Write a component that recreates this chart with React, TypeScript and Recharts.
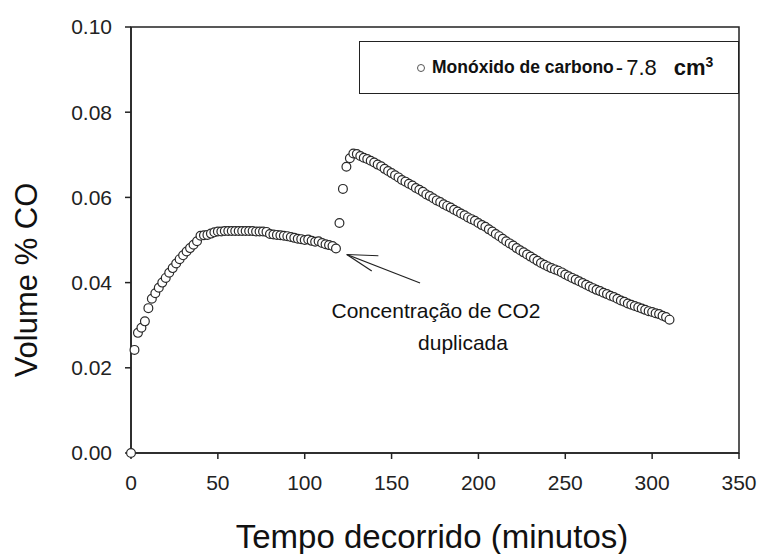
import { ScatterChart, Scatter, XAxis, YAxis, ReferenceArea, ReferenceLine, Legend } from "recharts";

// tempo decorrido (min) e volume % CO, antes e depois de duplicar o CO2
const tempoAntes = [
  0, 2, 4, 6, 8, 10, 12, 14, 16, 18,
  20, 22, 24, 26, 28, 30, 32, 34, 36, 38,
  40, 42, 44, 46, 48, 50, 52, 54, 56, 58,
  60, 62, 64, 66, 68, 70, 72, 74, 76, 78,
  80, 82, 84, 86, 88, 90, 92, 94, 96, 98,
  100, 102, 104, 106, 108, 110, 112, 114, 116, 118,
];
const coAntes = [
  0, 0.0242, 0.0282, 0.0294, 0.0309, 0.034, 0.0362, 0.0375, 0.0388, 0.04,
  0.0411, 0.0423, 0.0434, 0.0445, 0.0455, 0.0464, 0.0473, 0.0481, 0.0489, 0.0497,
  0.051, 0.0511, 0.0512, 0.0515, 0.0518, 0.052, 0.052, 0.0521, 0.0521, 0.0521,
  0.0521, 0.0521, 0.0521, 0.0521, 0.0521, 0.0521, 0.052, 0.052, 0.052, 0.0519,
  0.0514, 0.0513, 0.0512, 0.0511, 0.051, 0.0509, 0.0507, 0.0505, 0.0503, 0.0502,
  0.05, 0.0501, 0.0498, 0.0496, 0.0497, 0.0493, 0.049, 0.0488, 0.0486, 0.048,
];
const tempoDepois = [
  120, 122, 124, 126, 128, 130, 132, 134, 136, 138,
  140, 142, 144, 146, 148, 150, 152, 154, 156, 158,
  160, 162, 164, 166, 168, 170, 172, 174, 176, 178,
  180, 182, 184, 186, 188, 190, 192, 194, 196, 198,
  200, 202, 204, 206, 208, 210, 212, 214, 216, 218,
  220, 222, 224, 226, 228, 230, 232, 234, 236, 238,
  240, 242, 244, 246, 248, 250, 252, 254, 256, 258,
  260, 262, 264, 266, 268, 270, 272, 274, 276, 278,
  280, 282, 284, 286, 288, 290, 292, 294, 296, 298,
  300, 302, 304, 306, 308, 310,
];
const coDepois = [
  0.054, 0.062, 0.0672, 0.0692, 0.0703, 0.0702, 0.0697, 0.0693, 0.069, 0.0686,
  0.0682, 0.0677, 0.0673, 0.0667, 0.0662, 0.0657, 0.0652, 0.0647, 0.0641, 0.0637,
  0.0632, 0.0628, 0.0622, 0.0618, 0.0613, 0.0607, 0.0603, 0.0598, 0.0593, 0.0589,
  0.0584, 0.058, 0.0576, 0.0571, 0.0567, 0.0562, 0.0558, 0.0553, 0.0549, 0.0545,
  0.054, 0.0535, 0.0531, 0.0525, 0.052, 0.0514, 0.0509, 0.0503, 0.0497, 0.0492,
  0.0487, 0.0481, 0.0476, 0.0471, 0.0466, 0.0461, 0.0456, 0.0451, 0.0446, 0.0442,
  0.0438, 0.0434, 0.0431, 0.0428, 0.0424, 0.0419, 0.0415, 0.0411, 0.0407, 0.0403,
  0.0399, 0.0395, 0.0391, 0.0387, 0.0383, 0.038, 0.0376, 0.0373, 0.0369, 0.0366,
  0.0362, 0.0358, 0.0355, 0.0351, 0.0348, 0.0345, 0.0342, 0.0339, 0.0336, 0.0333,
  0.0331, 0.0328, 0.0326, 0.0322, 0.0319, 0.0313,
];

const xTicks = [0, 50, 100, 150, 200, 250, 300, 350];
const yTicks = [0, 0.02, 0.04, 0.06, 0.08, 0.1];

const data = [
  ...tempoAntes.map((t, i) => ({ tempo: t, co: coAntes[i] })),
  ...tempoDepois.map((t, i) => ({ tempo: t, co: coDepois[i] })),
];

const FONT = '"Liberation Sans", Arial, sans-serif';
const INK = "#222";

const OpenCircle = (props: any) => (
  <circle cx={props.cx} cy={props.cy} r={4.4} fill="#fff" stroke="#2a2a2a" strokeWidth={1.2} />
);

const LegendBox = (props: any) => {
  const name = props.payload?.[0]?.value ?? "Monóxido de carbono";
  return (
    <div
      style={{
        boxSizing: "border-box",
        width: 380,
        height: 53,
        border: `1.5px solid ${INK}`,
        background: "#fff",
        display: "flex",
        alignItems: "center",
        paddingLeft: 56,
        fontFamily: FONT,
        color: "#111",
        whiteSpace: "nowrap",
      }}
    >
      <svg width={10} height={10} style={{ marginRight: 6 }}>
        <circle cx={5} cy={5} r={3.5} fill="#fff" stroke="#555" strokeWidth={1} />
      </svg>
      <span style={{ fontWeight: "bold", fontSize: 17.5 }}>{name}</span>
      <span style={{ fontSize: 22, marginLeft: 2 }}>-</span>
      <span style={{ fontSize: 22, marginLeft: 3 }}>7.8</span>
      <span style={{ fontWeight: "bold", fontSize: 22, marginLeft: 17 }}>
        cm<sup style={{ fontSize: 14, fontWeight: "bold" }}>3</sup>
      </span>
    </div>
  );
};

export default function App() {
  return (
    <div style={{ position: "absolute", left: 0, top: 0, width: 758, height: 554, background: "#fff" }}>
      <ScatterChart width={758} height={554} margin={{ top: 27, right: 19, bottom: 41, left: 61 }}>
        <XAxis
          type="number"
          dataKey="tempo"
          domain={[0, 350]}
          ticks={xTicks}
          height={60}
          stroke={INK}
          strokeWidth={1.5}
          tickSize={6}
          tickMargin={16}
          tick={{ fill: INK, fontSize: 21, fontFamily: FONT }}
        />
        <YAxis
          type="number"
          dataKey="co"
          domain={[0, 0.1]}
          ticks={yTicks}
          width={70}
          stroke={INK}
          strokeWidth={1.5}
          tickSize={6}
          tickMargin={13}
          tick={{ fill: INK, fontSize: 21, fontFamily: FONT }}
          tickFormatter={(v: number) => v.toFixed(2)}
        />
        <ReferenceArea x1={0} x2={350} y1={0} y2={0.1} fill="none" stroke={INK} strokeWidth={1.5} />
        <ReferenceLine segment={[{ x: 124.2, y: 0.0466 }, { x: 166.4, y: 0.0399 }]} stroke={INK} strokeWidth={1.2} />
        <ReferenceLine segment={[{ x: 124.2, y: 0.0466 }, { x: 142.4, y: 0.0463 }]} stroke={INK} strokeWidth={1.2} />
        <ReferenceLine segment={[{ x: 124.2, y: 0.0466 }, { x: 138.6, y: 0.0427 }]} stroke={INK} strokeWidth={1.2} />
        <Legend
          verticalAlign="middle"
          align="center"
          content={LegendBox}
          wrapperStyle={{ left: 359, top: 41, width: 380, height: 53 }}
        />
        <Scatter
          name="Monóxido de carbono"
          data={data}
          shape={OpenCircle}
          isAnimationActive={false}
        />
        <text x={436} y={318} textAnchor="middle" fontSize={21} fontFamily={FONT} fill="#111">
          Concentração de CO2
        </text>
        <text x={463} y={350} textAnchor="middle" fontSize={21} fontFamily={FONT} fill="#111">
          duplicada
        </text>
        <text x={432} y={548} textAnchor="middle" fontSize={33} fontFamily={FONT} fill="#111">
          Tempo decorrido (minutos)
        </text>
        <text
          x={37}
          y={280}
          textAnchor="middle"
          fontSize={31}
          fontFamily={FONT}
          fill="#111"
          transform="rotate(-90 37 280)"
        >
          Volume % CO
        </text>
      </ScatterChart>
    </div>
  );
}
